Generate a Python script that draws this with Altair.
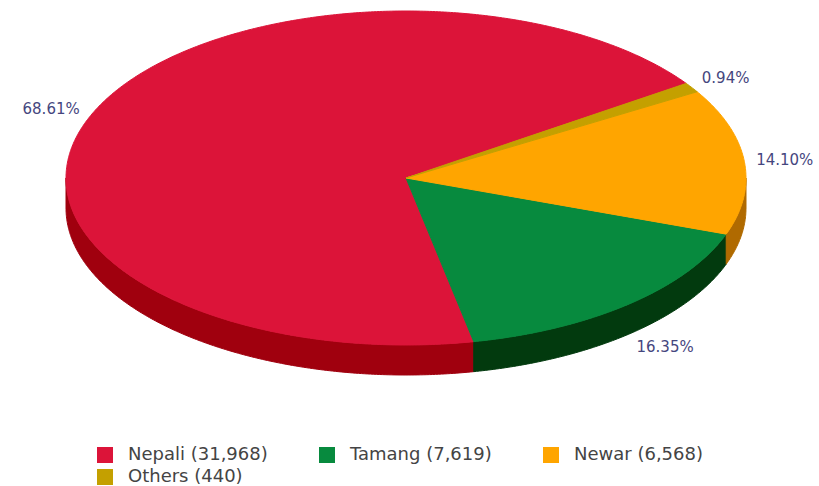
import math
import altair as alt
import pandas as pd

# ---- data ----
names = ["Nepali", "Tamang", "Newar", "Others"]
counts = [31968, 7619, 6568, 440]

top_colors = ["#dc1439", "#078a3e", "#ffa500", "#c4a000"]
side_colors = ["#a0000e", "#023a0e", "#b06a00", "#8a7000"]

# ---- geometry (layout constants) ----
W, H = 819, 486
CX, CY = 406, 178
RX, RY = 340, 167
DEPTH = 30
START = 34.5  # degrees, counter-clockwise from +x

total = sum(counts)
legend_labels = [f"{n} ({c:,})" for n, c in zip(names, counts)]


def pt(phi_deg, dy=0.0):
    r = math.radians(phi_deg)
    return CX + RX * math.cos(r), CY - RY * math.sin(r) + dy


top_rows, side_rows, label_rows = [], [], []
a = START
for k, (n, c, lab) in enumerate(zip(names, counts, legend_labels)):
    span = 360.0 * c / total
    b = a + span
    # top face
    steps = max(2, int(math.ceil(span / 0.5)))
    pts = [(CX, CY)] + [pt(a + span * s / steps) for s in range(steps + 1)] + [(CX, CY)]
    for i, (x, y) in enumerate(pts):
        top_rows.append({"poly": n, "label": lab, "i": i, "x": x, "y": y})
    # side (front half: 180..360 and 540..720)
    for lo, hi in [(180, 360), (540, 720)]:
        s0, s1 = max(a, lo), min(b, hi)
        if s1 > s0:
            m = max(2, int(math.ceil((s1 - s0) / 0.5)))
            edge = [s0 + (s1 - s0) * j / m for j in range(m + 1)]
            ring = [pt(p) for p in edge] + [pt(p, DEPTH) for p in reversed(edge)] + [pt(edge[0])]
            for i, (x, y) in enumerate(ring):
                side_rows.append({"poly": f"{n}-{lo}", "name": n, "i": i, "x": x, "y": y})
    # label
    mid = math.radians(a + span / 2)
    lx = CX + RX * 1.035 * math.cos(mid)
    ly = CY - RY * 1.10 * math.sin(mid) + (DEPTH if math.sin(mid) < 0 else 0)
    label_rows.append({
        "text": f"{100.0 * c / total:.2f}%",
        "x": lx, "y": ly,
        "side": "right" if math.cos(mid) >= 0 else "left",
    })
    a = b

top_df = pd.DataFrame(top_rows)
side_df = pd.DataFrame(side_rows)
lab_df = pd.DataFrame(label_rows)

xs = alt.Scale(domain=[0, W], nice=False, zero=False)
ys = alt.Scale(domain=[0, H], reverse=True, nice=False, zero=False)

side_scale = alt.Scale(domain=names, range=side_colors)
top_scale = alt.Scale(domain=legend_labels, range=top_colors)

side = alt.Chart(side_df).mark_line(strokeWidth=1, strokeJoin="round").encode(
    x=alt.X("x:Q", scale=xs, axis=None),
    y=alt.Y("y:Q", scale=ys, axis=None),
    fill=alt.Fill("name:N", scale=side_scale, legend=None),
    stroke=alt.Stroke("name:N", scale=side_scale, legend=None),
    detail="poly:N",
    order="i:Q",
)

top = alt.Chart(top_df).mark_line(strokeWidth=1, strokeJoin="round").encode(
    x=alt.X("x:Q", scale=xs, axis=None),
    y=alt.Y("y:Q", scale=ys, axis=None),
    fill=alt.Fill(
        "label:N",
        scale=top_scale,
        legend=alt.Legend(
            title=None,
            orient="none",
            legendX=96,
            legendY=446,
            columns=3,
            direction="horizontal",
            symbolType="square",
            symbolSize=256,
            symbolStrokeWidth=0,
            labelFont="DejaVu Sans",
            labelFontSize=18,
            labelColor="#444444",
            labelOffset=14,
            columnPadding=50,
            rowPadding=4,
            padding=0,
        ),
    ),
    stroke=alt.Stroke("label:N", scale=top_scale, legend=None),
    detail="poly:N",
    order="i:Q",
)

txt_common = dict(font="DejaVu Sans", fontSize=15, color="#45467e", baseline="middle")
lab_right = alt.Chart(lab_df).transform_filter(alt.datum.side == "right").mark_text(
    align="left", **txt_common
).encode(x=alt.X("x:Q", scale=xs, axis=None), y=alt.Y("y:Q", scale=ys, axis=None), text="text:N")
lab_left = alt.Chart(lab_df).transform_filter(alt.datum.side == "left").mark_text(
    align="right", **txt_common
).encode(x=alt.X("x:Q", scale=xs, axis=None), y=alt.Y("y:Q", scale=ys, axis=None), text="text:N")

chart = (
    alt.layer(side, top, lab_right, lab_left)
    .resolve_scale(fill="independent", stroke="independent")
    .properties(width=W, height=H, autosize=alt.AutoSizeParams(type="none"), padding=0)
    .configure_view(strokeWidth=0)
)

chart.save("out.html", embed_options={"renderer": "svg", "actions": False})
